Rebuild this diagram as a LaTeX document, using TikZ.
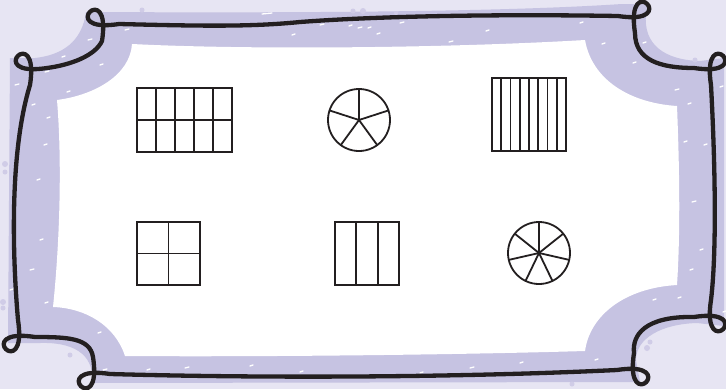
\documentclass[tikz,border=0pt]{standalone}
\usepackage{tikz}
\usepackage{xcolor}
\definecolor{fond}{HTML}{E7E5F3}
\definecolor{bande}{HTML}{C6C3E2}
\definecolor{trait}{HTML}{231F20}
\definecolor{tache}{HTML}{D0CCE7}
\def\largeur{726}
\def\hauteur{389}
\tikzset{
  cadre/.style={line width=4.3pt, draw=trait, line cap=round, line join=round},
  figure/.style={line width=1.8pt, draw=trait},
  speck/.style={white, line width=1.3pt, line cap=round},
}

\begin{document}
\begin{tikzpicture}[x=1pt, y=-1pt]
\useasboundingbox (0,0) rectangle (\largeur,\hauteur);
\fill[fond] (0,0) rectangle (\largeur,\hauteur);

% bande violette
\fill[bande] (86,12) .. controls (300,13) and (500,12) .. (622,4) -- (648,4) -- (646,14)
  .. controls (643,45) and (665,60) .. (700,61) -- (724,58) -- (724,326) -- (697,323)
  .. controls (662,324) and (636,338) .. (636,360) -- (640,382) -- (92,383)
  .. controls (95,352) and (70,342) .. (40,343) -- (8,343) -- (10,58) -- (35,58)
  .. controls (62,55) and (82,42) .. (86,12) -- cycle;

% fond blanc
\fill[white] (132,44) .. controls (250,50) and (450,48) .. (585,40)
  .. controls (592,80) and (630,103) .. (677,106)
  .. controls (680,180) and (680,240) .. (677,285)
  .. controls (625,288) and (590,315) .. (585,351)
  .. controls (450,355) and (250,357) .. (125,356)
  .. controls (115,325) and (85,308) .. (53,307)
  .. controls (60,240) and (62,160) .. (57,100)
  .. controls (95,95) and (130,75) .. (132,44) -- cycle;

% taches
\foreach \sx/\sy/\l in {262/14/10, 292/35/3, 320/25/4, 349/26/3, 358/28/4, 368/28/3,
    377/34/3, 400/23/4, 449/42/4, 486/31/3, 125/30/4, 88/40/4, 100/65/3, 45/72/4,
    62/57/3, 15/85/4, 32/105/3, 67/92/3, 47/118/3, 44/145/3, 37/180/3, 40/240/3,
    30/270/4, 10/290/3, 45/303/3, 98/333/3, 103/370/4, 147/370/3, 684/142/3,
    704/145/3, 692/202/4, 580/23/3, 602/44/3, 643/43/3, 633/63/3,
    675/90/4, 688/104/3, 720/87/3, 653/300/3, 678/298/3, 595/360/3, 723/312/3,
    700/250/3, 690/270/3, 185/368/4, 300/372/3, 420/373/3, 470/368/4, 520/363/3,
    250/366/3}
  \draw[speck] (\sx,\sy) -- ++(\l,-1);
\foreach \px/\py/\r in {353/11/2.5, 363/11/3, 142/10/2.5, 396/13/2, 5/164/3,
    5/172/2.5, 3/302/3, 3/308/2.5, 70/355/2.5, 647/348/3, 650/342/2.5,
    572/384/2.5, 695/60/2.5}
  \fill[tache] (\px,\py) circle (\r);

% cadre noir avec boucles
\draw[cadre]
  (119,24) .. controls (200,26) and (250,27) .. (300,22)
  .. controls (380,16) and (500,14) .. (618,16)
  .. controls (683,26) and (625,-32) .. (635,33)   % boucle
  .. controls (635,60) and (660,68) .. (694,68)
  .. controls (759,78) and (701,20) .. (711,85)    % boucle
  .. controls (715,160) and (717,250) .. (711,300)
  .. controls (701,365) and (759,307) .. (694,317) % boucle
  .. controls (645,316) and (632,335) .. (634,353)
  .. controls (624,418) and (682,360) .. (617,370) % boucle
  .. controls (450,378) and (250,378) .. (110,374)
  .. controls (45,364) and (103,422) .. (93,357)   % boucle
  .. controls (90,338) and (68,337) .. (35,337)
  .. controls (-30,327) and (28,385) .. (18,320)   % boucle
  .. controls (12,250) and (10,150) .. (30,85)
  .. controls (40,20) and (-18,78) .. (47,68)      % boucle
  .. controls (70,65) and (95,56) .. (102,41)
  .. controls (112,-24) and (54,34) .. (119,24);   % boucle

% grille 5 x 2
\draw[figure] (137,88) rectangle (232,152);
\foreach \i in {1,...,4}
  \draw[figure] (137+19*\i,88) -- (137+19*\i,152);
\draw[figure] (137,120) -- (232,120);

% disque en 5
\coordinate (pie5) at (359,120);
\draw[figure] (pie5) circle (31);
\foreach \a in {0,...,4}
  \draw[figure] (pie5) -- ++(-90+72*\a:31);

% 8 bandes
\draw[figure] (492,78) rectangle (566,151);
\foreach \i in {1,...,7}
  \draw[figure] (492+9.25*\i,78) -- (492+9.25*\i,151);

% carre 2 x 2
\draw[figure] (137,222) rectangle (200,285);
\draw[figure] (168.5,222) -- (168.5,285);
\draw[figure] (137,253.5) -- (200,253.5);

% 3 bandes
\draw[figure] (335,222) rectangle (399,285);
\foreach \i in {1,2}
  \draw[figure] (335+21.33*\i,222) -- ++(0,63);

% disque en 7
\coordinate (pie7) at (539,253);
\draw[figure] (pie7) circle (31);
\foreach \a in {0,...,6}
  \draw[figure] (pie7) -- ++(-90+51.4286*\a:31);

\end{tikzpicture}
\end{document}
